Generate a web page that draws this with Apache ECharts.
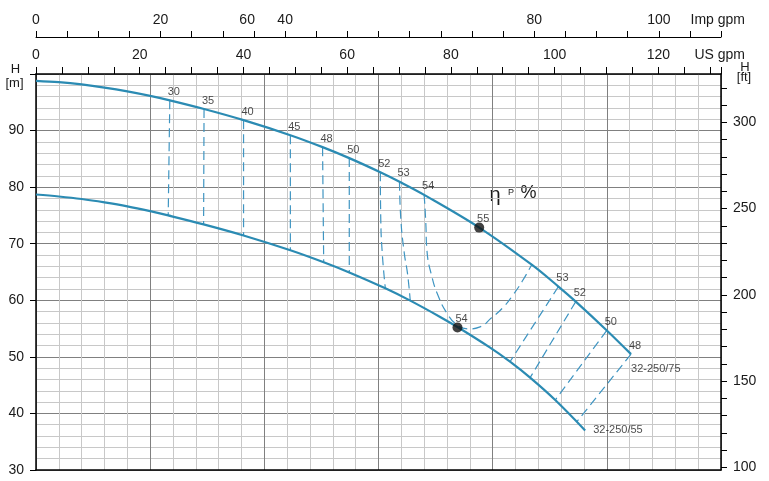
<!DOCTYPE html>
<html><head><meta charset="utf-8">
<script src="https://cdn.jsdelivr.net/npm/echarts@6/dist/echarts.min.js"></script>
<style>html,body{margin:0;padding:0;background:#fff}#c{width:769px;height:481px}</style>
</head><body><div id="c"></div>
<script>
// unit conversions (m3/h per gpm, m per ft)
const M3H_PER_USGPM = 0.2271247;
const M3H_PER_IMPGPM = 0.2727654;
const M_PER_FT = 0.3048;

// pump curves Q [m3/h], H [m]
const curve75 = [[0,98.8],[1,98.55],[2,98.15],[3,97.6],[4,96.93],[5,96.13],[5.86,95.34],[7.36,93.81],[9.09,91.84],[11.14,89.18],[12.55,87.07],[13.72,85.13],[15.08,82.63],[15.92,80.95],[17.0,78.63],[19.41,72.85],[21.71,66.29],[22.88,62.43],[23.64,59.77],[25.0,54.67],[26.06,50.48]];
const curve55 = [[0,78.7],[1,78.35],[2,77.9],[3,77.3],[4,76.6],[5,75.75],[5.79,75.0],[7.34,73.42],[9.09,71.46],[11.14,68.84],[12.6,66.72],[13.72,64.93],[15.3,62.12],[16.39,59.94],[17.7,57.06],[18.46,55.27],[19.89,51.62],[20.76,49.14],[21.64,46.32],[22.74,42.36],[24.05,36.99]];
const curveNames = ['32-250/75','32-250/55'];

// iso-efficiency lines (first point on the 75 curve)
const isoEta = ['30','35','40','45','48','50','52','53','54','53','52','50','48'];
const isoLines = [
  [[5.86,95.34],[5.79,75.0]],
  [[7.36,93.81],[7.34,73.42]],
  [[9.09,91.84],[9.09,71.46]],
  [[11.14,89.18],[11.14,68.84]],
  [[12.55,87.07],[12.6,66.72]],
  [[13.72,85.13],[13.72,64.93]],
  [[15.08,82.63],[15.1,74.2],[15.17,68.0],[15.3,62.12]],
  [[15.92,80.95],[15.98,74.2],[16.13,68.3],[16.27,64.75],[16.39,59.94]],
  [[17.0,78.63],[17.07,73.84],[17.12,68.88],[17.34,64.15],[17.63,60.63],[18.0,57.7],[18.43,55.7],[18.94,54.95],[19.45,55.3],[19.95,56.9],[20.45,58.7],[20.9,61.0],[21.3,63.4],[21.71,66.29]],
  [[22.88,62.43],[20.76,49.14]],
  [[23.64,59.77],[21.64,46.32]],
  [[25.0,54.67],[22.74,42.36]],
  [[26.06,50.48],[23.68,38.5]]
];
// best efficiency points
const bepPoints = [[19.41,72.85],[18.46,55.2]];
const bepEta = ['55','54'];

// axis tick labels
const hLabels = [30,40,50,60,70,80,90];
const ftTicks = [100,110,120,130,140,150,160,170,180,190,200,210,220,230,240,250,260,270,280,290,300,310,320];
const ftLabels = [100,150,200,250,300];
const usLabels = [0,20,40,60,80,100,120];
const impLabelValues = [0,20,33.9,40,80,100];
const impLabelTexts = ['0','20','60','40','80','100'];

const FONT = 'Liberation Sans, Arial, Helvetica, sans-serif';
const BLUE = '#2b8bb3';
const DASH = '#3f95c2';
const TXT = '#1a1a1a';

const chart = echarts.init(document.getElementById('c'), null, {renderer:'canvas'});

const series = [];
series.push({type:'line', data:curve75, smooth:0.35, symbol:'none', lineStyle:{color:BLUE, width:2.2}, z:5, animation:false});
series.push({type:'line', data:curve55, smooth:0.35, symbol:'none', lineStyle:{color:BLUE, width:2.2}, z:5, animation:false});
isoLines.forEach(pts => {
  series.push({type:'line', data:pts, smooth: pts.length>2 ? 0.5 : false, symbol:'none',
    lineStyle:{color:DASH, width:1.2, type:[9,5]}, z:4, animation:false});
});
series.push({type:'scatter', data:bepPoints, symbol:'circle', symbolSize:10, itemStyle:{color:'#111'}, z:6, animation:false});
const etaLabelData = isoLines.map((pts,i)=>[pts[0][0], pts[0][1], isoEta[i]])
  .concat(bepPoints.map((p,i)=>[p[0], p[1], bepEta[i]]));
series.push({type:'scatter', data:etaLabelData, symbolSize:0, z:7, animation:false,
  label:{show:true, position:'top', distance:3, offset:[4,0], formatter:p=>p.value[2], fontSize:11, color:TXT, fontFamily:FONT}});
series.push({type:'scatter', data:[curve75[curve75.length-1].concat([curveNames[0]])], symbolSize:0, z:7, animation:false,
  label:{show:true, position:'bottom', align:'left', distance:9, formatter:p=>p.value[2], fontSize:11, color:TXT, fontFamily:FONT}});
series.push({type:'scatter', data:[curve55[curve55.length-1].concat([curveNames[1]])], symbolSize:0, z:7, animation:false,
  label:{show:true, position:'right', distance:8, formatter:p=>p.value[2], fontSize:11, color:TXT, fontFamily:FONT}});

const option = {
  animation:false,
  backgroundColor:'#fff',
  grid:{left:36, right:48, top:74, bottom:11, containLabel:false},
  xAxis:[
    {type:'value', min:0, max:30, interval:5, position:'bottom',
     axisLine:{show:true, onZero:false, lineStyle:{color:'#000', width:1.5}}, axisTick:{show:false}, axisLabel:{show:false},
     splitLine:{show:true, lineStyle:{color:'#808080', width:1}},
     minorTick:{show:false, splitNumber:5}, minorSplitLine:{show:true, lineStyle:{color:'#c8c8c8', width:1}}},
    {type:'value', min:0, max:30/M3H_PER_USGPM, interval:5, position:'top',
     axisLine:{show:true, onZero:false, lineStyle:{color:'#000', width:1.5}},
     axisTick:{show:true, inside:false, length:7, lineStyle:{color:'#000'}},
     axisLabel:{customValues:usLabels, margin:12, fontSize:14, color:TXT, fontFamily:FONT},
     splitLine:{show:false}},
    {type:'value', min:0, max:30/M3H_PER_IMPGPM, interval:5, position:'top', offset:37,
     axisLine:{show:true, onZero:false, lineStyle:{color:'#000', width:1}},
     axisTick:{show:true, inside:false, length:6, lineStyle:{color:'#000'}},
     axisLabel:{customValues:impLabelValues, margin:10, fontSize:14, color:TXT, fontFamily:FONT,
       formatter:v=>{const i=impLabelValues.findIndex(x=>Math.abs(x-v)<1e-6); return i>=0?impLabelTexts[i]:'';}},
     splitLine:{show:false}}
  ],
  yAxis:[
    {type:'value', min:30, max:100, interval:10, position:'left',
     axisLine:{show:true, onZero:false, lineStyle:{color:'#000', width:1.5}},
     axisTick:{show:true, inside:false, length:6, lineStyle:{color:'#000'}},
     axisLabel:{customValues:hLabels, margin:12, fontSize:14, color:TXT, fontFamily:FONT},
     splitLine:{show:true, lineStyle:{color:'#808080', width:1}},
     minorTick:{show:false, splitNumber:5}, minorSplitLine:{show:true, lineStyle:{color:'#c8c8c8', width:1}}},
    {type:'value', min:30/M_PER_FT, max:100/M_PER_FT, position:'right',
     axisLine:{show:true, onZero:false, lineStyle:{color:'#000', width:1.5}},
     axisTick:{show:true, inside:false, length:6, customValues:ftTicks, lineStyle:{color:'#000'}},
     axisLabel:{customValues:ftLabels, margin:12, fontSize:14, color:TXT, fontFamily:FONT},
     splitLine:{show:false}}
  ],
  graphic:[
    {type:'text', x:15.5, y:69.5, style:{text:'H', font:'13px '+FONT, fill:TXT, textAlign:'center', textVerticalAlign:'middle'}},
    {type:'text', x:14.5, y:83, style:{text:'[m]', font:'13px '+FONT, fill:TXT, textAlign:'center', textVerticalAlign:'middle'}},
    {type:'text', x:745, y:67.5, style:{text:'H', font:'13px '+FONT, fill:TXT, textAlign:'center', textVerticalAlign:'middle'}},
    {type:'text', x:744, y:77.5, style:{text:'[ft]', font:'13px '+FONT, fill:TXT, textAlign:'center', textVerticalAlign:'middle'}},
    {type:'text', x:745, y:20.5, style:{text:'Imp gpm', font:'14px '+FONT, fill:TXT, textAlign:'right', textVerticalAlign:'middle'}},
    {type:'text', x:745, y:55.5, style:{text:'US gpm', font:'14px '+FONT, fill:TXT, textAlign:'right', textVerticalAlign:'middle'}},
    {type:'text', x:495, y:195, style:{text:'η', font:'20px '+FONT, fill:TXT, textAlign:'center', textVerticalAlign:'middle'}},
    {type:'text', x:511, y:193, style:{text:'P', font:'9px '+FONT, fill:TXT, textAlign:'center', textVerticalAlign:'middle'}},
    {type:'text', x:528.5, y:193, style:{text:'%', font:'18px '+FONT, fill:TXT, textAlign:'center', textVerticalAlign:'middle'}}
  ],
  series: series.map(s => Object.assign({xAxisIndex:0, yAxisIndex:0}, s))
};
chart.setOption(option);
</script></body></html>
